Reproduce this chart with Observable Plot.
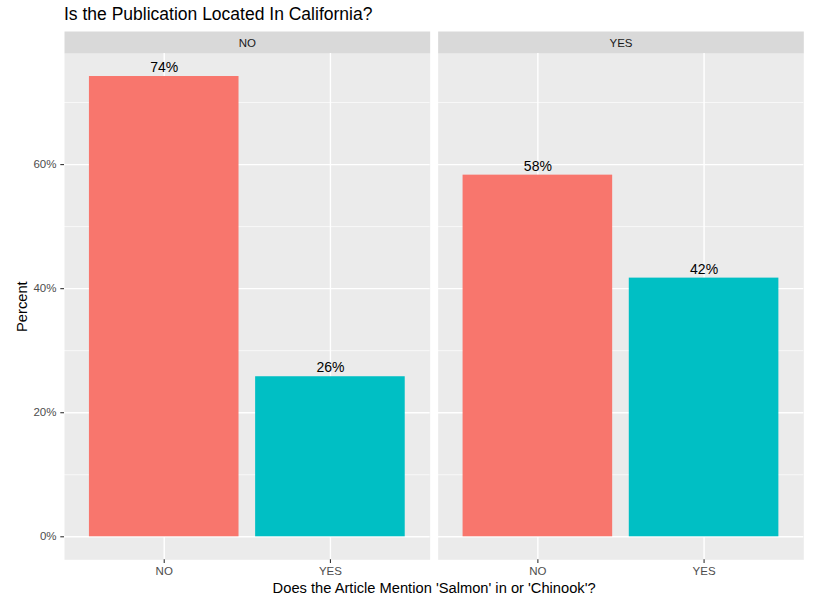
<!DOCTYPE html>
<html>
<head>
<meta charset="utf-8">
<script src="https://cdn.jsdelivr.net/npm/d3@7"></script>
<script src="https://cdn.jsdelivr.net/npm/@observablehq/plot@0.6"></script>
<style>
  body { margin: 0; background: #fff; font-family: "Liberation Sans", Arial, Helvetica, sans-serif; }
  #title { height: 31px; line-height: 29px; padding-left: 64px; font-size: 17.5px; color: #000; white-space: nowrap; }
</style>
</head>
<body>
<div id="title">Is the Publication Located In California?</div>
<div id="chart"></div>
<script>
// Data
const locations = ["NO", "YES"];           // facet: Is the publication located in California?
const mentions = ["NO", "YES"];            // x: Does the article mention 'Salmon' or 'Chinook'?
const pctLocNo = [0.742, 0.258];
const pctLocYes = [0.583, 0.417];
const yTicks = [0, 0.2, 0.4, 0.6];
const yMinorTicks = [0.1, 0.3, 0.5, 0.7];
const xTitle = "Does the Article Mention 'Salmon' in or 'Chinook'?";
const yTitle = "Percent";

const rows = [];
mentions.forEach((m, i) => rows.push({loc: "NO", mention: m, pct: pctLocNo[i]}));
mentions.forEach((m, i) => rows.push({loc: "YES", mention: m, pct: pctLocYes[i]}));

const W = 826, H = 570, mt = 22, mb = 41.7, ml = 64, mr = 22.7;
const panelH = H - mt - mb;
const maxV = d3.max(rows, d => d.pct);
const ex = maxV * 0.05;

const chart = Plot.plot({
  width: W, height: H,
  marginTop: mt, marginBottom: mb, marginLeft: ml, marginRight: mr,
  style: {fontFamily: "'Liberation Sans', Arial, Helvetica, sans-serif", background: "#fff"},
  fx: {domain: locations, paddingInner: 0.0214, paddingOuter: 0, round: false, axis: null, label: null},
  x: {domain: mentions, paddingInner: 0.1, paddingOuter: 0.15, round: false, label: null},
  y: {domain: [-ex, maxV + ex], label: null},
  color: {domain: mentions, range: ["#F8766D", "#00BFC4"]},
  marks: [
    Plot.frame({fill: "#ebebeb"}),
    Plot.frame({fill: "#d9d9d9", insetTop: -22, insetBottom: panelH}),
    Plot.text(locations, {fx: d => d, text: d => d, frameAnchor: "top", dy: -10.3, fontSize: 11.5, fill: "#1a1a1a", lineAnchor: "middle"}),
    Plot.gridY(yMinorTicks, {stroke: "#fff", strokeOpacity: 1, strokeWidth: 0.7}),
    Plot.gridY(yTicks, {stroke: "#fff", strokeOpacity: 1, strokeWidth: 1.4}),
    Plot.gridX(mentions, {stroke: "#fff", strokeOpacity: 1, strokeWidth: 1.4}),
    Plot.barY(rows, {fx: "loc", x: "mention", y: "pct", fill: "mention"}),
    Plot.text(rows, {fx: "loc", x: "mention", y: "pct", text: d => d3.format(".0%")(d.pct), lineAnchor: "bottom", dy: -4.6, fontSize: 14, fill: "#000"}),
    Plot.axisY(yTicks, {tickFormat: d3.format(".0%"), tickSize: 3.7, tickPadding: 4.3, stroke: "#333333", strokeWidth: 1.1, fill: "#4d4d4d", fontSize: 11.5, label: null}),
    Plot.axisX({tickSize: 3.7, tickPadding: 3, stroke: "#333333", strokeWidth: 1.1, fill: "#4d4d4d", fontSize: 11.5, label: null}),
    Plot.text([yTitle], {fx: d => "NO", text: d => d, frameAnchor: "left", dx: -42.3, rotate: -90, textAnchor: "middle", lineAnchor: "middle", fontSize: 14.7, fill: "#000"}),
    Plot.text([xTitle], {fx: d => "NO", text: d => d, frameAnchor: "bottom-right", dx: 4, dy: 33, textAnchor: "middle", lineAnchor: "bottom", fontSize: 14.7, fill: "#000"})
  ]
});
document.getElementById("chart").appendChild(chart);
</script>
</body>
</html>
